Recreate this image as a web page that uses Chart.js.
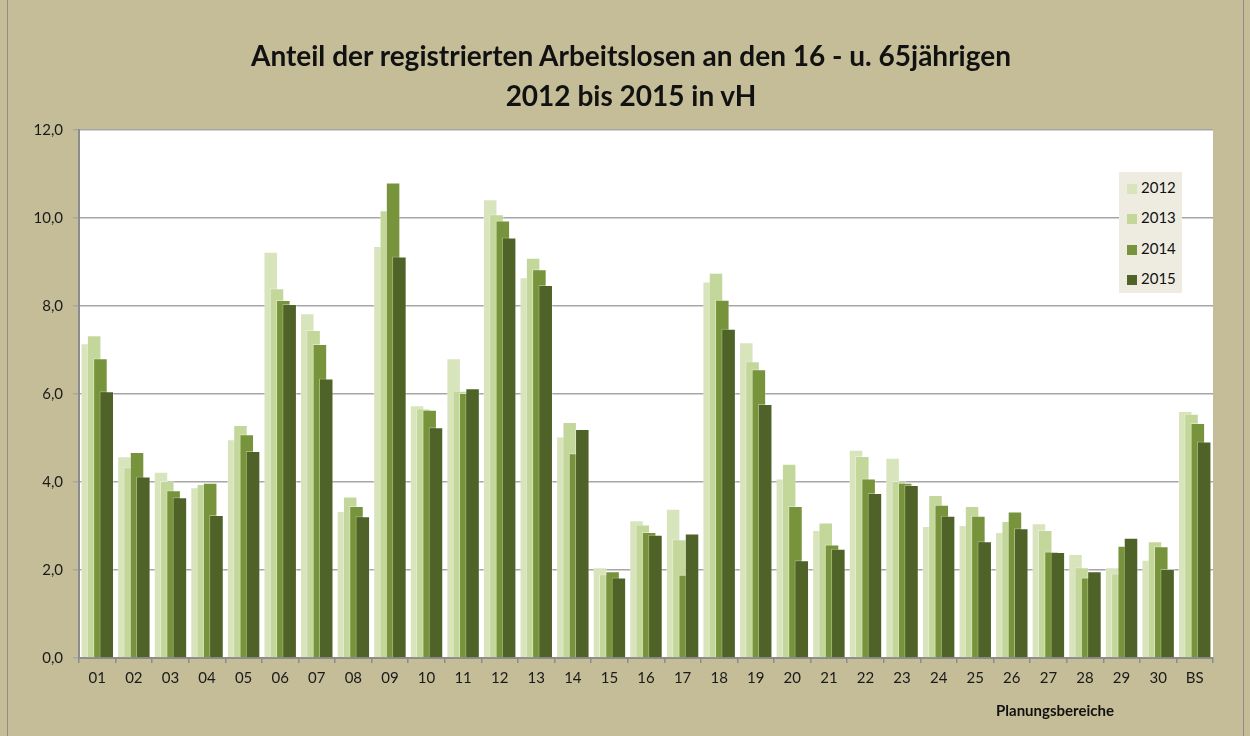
<!DOCTYPE html>
<html>
<head>
<meta charset="utf-8">
<script src="https://cdn.jsdelivr.net/npm/chart.js@4.4.0/dist/chart.umd.min.js"></script>
<style>
body{margin:0;background:#C4BD97;font-family:Lato,"Open Sans",sans-serif;}
#wrap{position:relative;width:1250px;height:736px;overflow:hidden;}
#frame{position:absolute;left:7px;top:-1px;width:1235px;height:736px;border:1px solid #8c8c8c;}
#chart{position:absolute;left:0;top:0;}
#title{position:absolute;left:231px;top:35px;width:800px;text-align:center;font-weight:bold;font-size:28px;line-height:40px;color:#111;}
#legend{position:absolute;left:1119px;top:172px;width:63px;height:121px;background:#EEECE1;}
.item{position:absolute;left:8px;height:20px;line-height:20px;font-size:15px;color:#111;white-space:nowrap;}
.item span{display:inline-block;width:10px;height:10px;margin-right:4px;vertical-align:-1px;}
#xtitle{position:absolute;left:955px;top:701px;width:200px;text-align:center;line-height:18px;font-weight:bold;font-size:15px;color:#111;}
</style>
</head>
<body>
<div id="wrap">
    <div id="frame"></div>
    <canvas id="chart" width="1250" height="736"></canvas>
    <div id="title">Anteil der registrierten Arbeitslosen an den 16 - u. 65jährigen<br>2012 bis 2015 in vH</div>
    <div id="legend"></div>
    <div id="xtitle">Planungsbereiche</div>
</div>
<script>

const categories = ["01","02","03","04","05","06","07","08","09","10",
    "11","12","13","14","15","16","17","18","19","20",
    "21","22","23","24","25","26","27","28","29","30","BS"];

const years = ["2012","2013","2014","2015"];

const values2012 = [7.15,4.58,4.23,3.88,4.97,9.23,7.83,3.34,9.36,5.74,
    6.81,10.42,8.65,5.03,2.06,3.13,3.39,8.55,7.17,4.08,
    2.91,4.73,4.55,3.00,3.02,2.86,3.06,2.36,2.06,2.23,5.61];

const values2013 = [7.33,4.33,4.02,3.95,5.29,8.40,7.45,3.67,10.17,5.67,
    6.07,10.08,9.09,5.36,1.90,3.03,2.70,8.75,6.74,4.41,
    3.08,4.59,4.02,3.70,3.45,3.11,2.91,2.06,1.92,2.65,5.55];

const values2014 = [6.81,4.68,3.81,3.98,5.08,8.13,7.13,3.45,10.80,5.64,
    6.02,9.94,8.83,4.65,1.97,2.86,1.89,8.14,6.56,3.45,
    2.58,4.08,3.98,3.48,3.23,3.33,2.42,1.83,2.55,2.54,5.34];

const values2015 = [6.06,4.12,3.65,3.25,4.70,8.04,6.35,3.22,9.12,5.24,
    6.13,9.55,8.47,5.20,1.83,2.80,2.83,7.48,5.77,2.22,
    2.48,3.75,3.93,3.23,2.65,2.95,2.41,1.97,2.73,2.02,4.92];

const yearColors = ["#D8E4BC","#C4D79B","#77933C","#4F6228"];

const series = [values2012,values2013,values2014,values2015];

// white plot area on the tan chart background
const plotBackground = {
    id:"plotBackground",
    beforeDraw(chart){
        const {ctx, chartArea:a} = chart;
        ctx.save();
        ctx.fillStyle = "#ffffff";
        ctx.fillRect(a.left, a.top, a.right - a.left, a.bottom - a.top);
        ctx.restore();
    }
};

// later years are painted over earlier ones (overlapping bars)
const drawInYearOrder = {
    id:"drawInYearOrder",
    beforeDatasetsDraw(chart){
        chart.getSortedVisibleDatasetMetas().forEach(meta=>{
            chart._drawDataset(meta);
        });
        return false;
    }
};

const axisFont = {family:"Lato", size:15};

const chart = new Chart(document.getElementById("chart"),{

    type:"bar",

    data:{
        labels:categories,
        datasets:years.map((year,i)=>({
            label:year,
            data:series[i],
            backgroundColor:yearColors[i],
            borderColor:"rgba(255,255,255,0.35)",
            borderWidth:1,
            categoryPercentage:0.69,
            barPercentage:2.3
        }))
    },

    options:{
        responsive:false,
        animation:false,
        layout:{
            // the title is an html block above the plot
            padding:{left:0, right:37, top:129.7, bottom:38}
        },
        plugins:{
            legend:{display:false},
            tooltip:{enabled:false}
        },
        scales:{
            x:{
                grid:{
                    offset:true,
                    drawOnChartArea:false,
                    tickLength:5,
                    color:"#8c8c8c",
                    lineWidth:1.5
                },
                border:{color:"#8c8c8c", width:2},
                ticks:{
                    color:"#1a1a1a",
                    font:axisFont,
                    padding:6,
                    maxRotation:0,
                    autoSkip:false
                },
                afterFit(scale){
                    scale.height = 40;
                }
            },
            y:{
                min:0,
                max:12,
                grid:{
                    color:"#a6a6a6",
                    lineWidth:1.5,
                    tickLength:6
                },
                border:{color:"#8c8c8c", width:2},
                ticks:{
                    stepSize:2,
                    color:"#1a1a1a",
                    font:axisFont,
                    padding:10,
                    callback:value=>value.toFixed(1).replace(".",",")
                },
                afterFit(scale){
                    scale.width = 79;
                }
            }
        }
    },

    plugins:[plotBackground, drawInYearOrder]

});

// legend box inside the plot, as in the original
const legendBox = document.getElementById("legend");
const rowCenters = [15,45,76,106];

chart.data.datasets.forEach((dataset,i)=>{
    const item = document.createElement("div");
    item.className = "item";
    item.style.top = (rowCenters[i] - 10) + "px";
    item.innerHTML = '<span style="background:' + dataset.backgroundColor + '"></span>' + dataset.label;
    legendBox.appendChild(item);
});

</script>
</body>
</html>
